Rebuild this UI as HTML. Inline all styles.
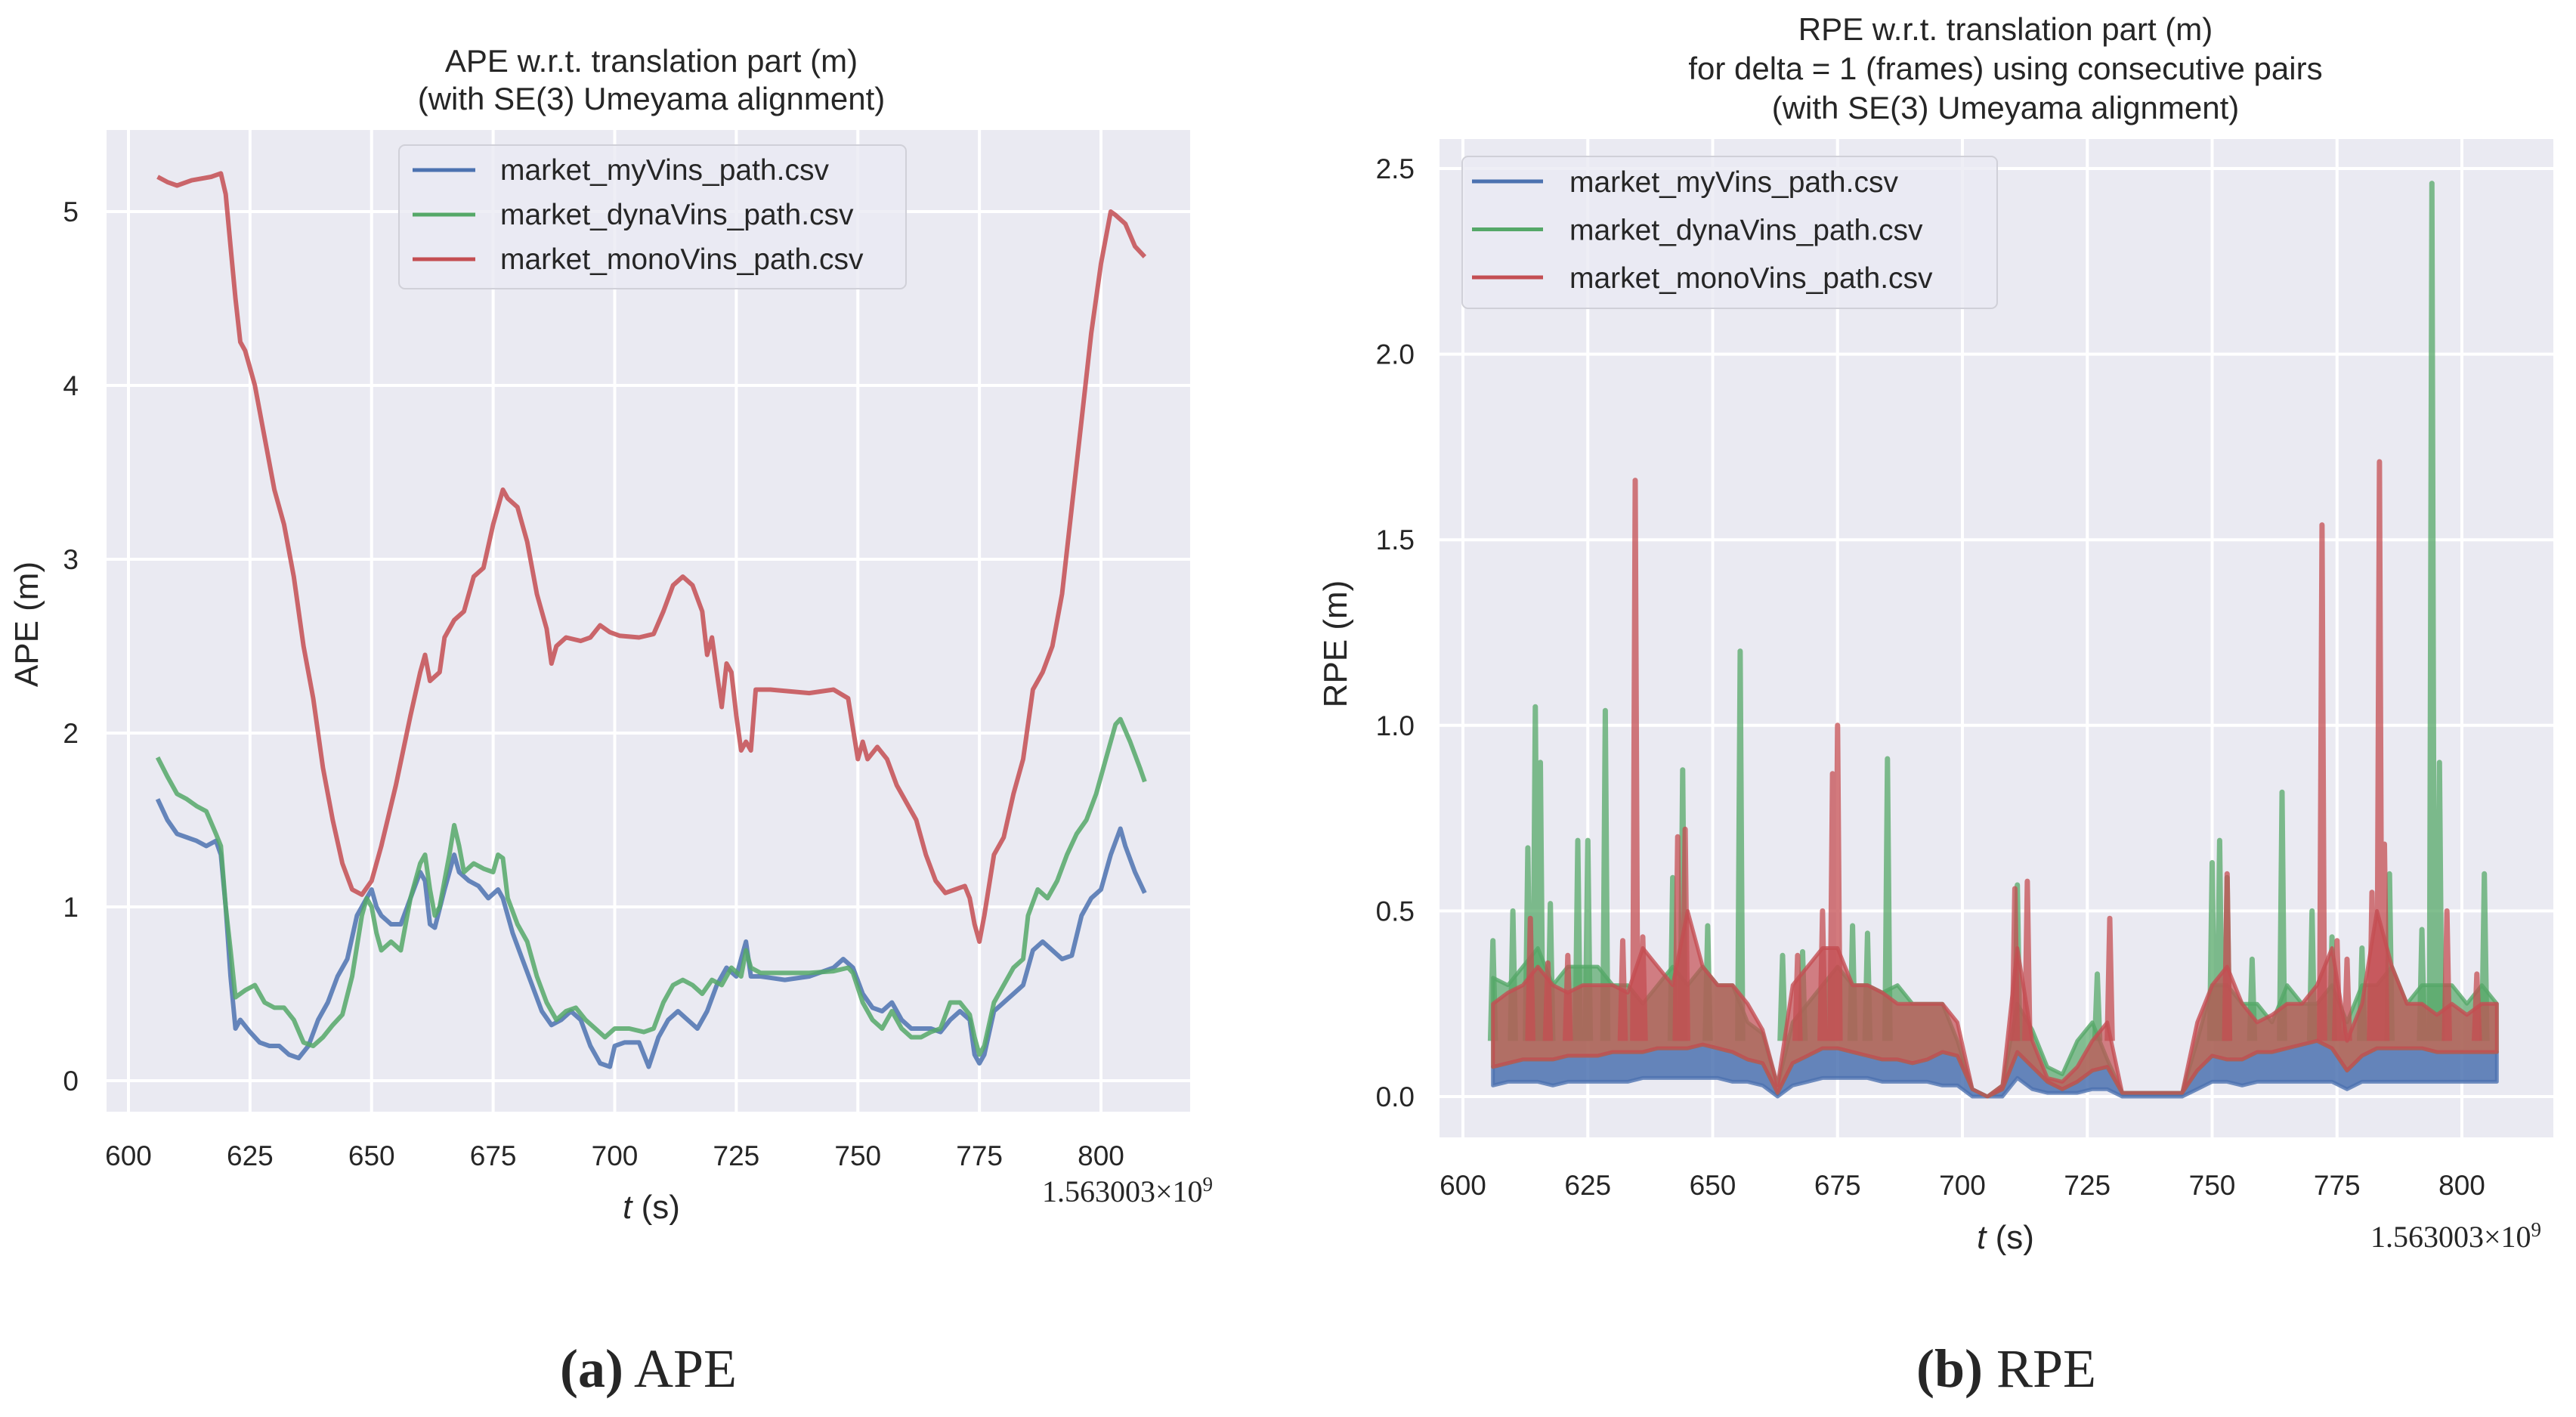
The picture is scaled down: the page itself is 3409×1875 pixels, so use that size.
<!DOCTYPE html>
<html><head><meta charset="utf-8"><style>
html,body{margin:0;padding:0;background:#fff;}
svg{display:block;}
text{font-family:"Liberation Sans",sans-serif;fill:#262626;}
.tk{font-size:37px;}
.lg{font-size:39px;}
.ax{font-size:44px;}
.tt{font-size:42px;}
.serif{font-family:"Liberation Serif",serif;}
</style></head><body>
<svg id="fig" width="3409" height="1875" viewBox="0 0 3409 1875" xmlns="http://www.w3.org/2000/svg">
<g id="ape"></g>
<g id="rpe"></g>
<text class="serif" x="858" y="1835" text-anchor="middle" font-size="72"><tspan font-weight="bold">(a)</tspan> APE</text>
<text class="serif" x="2655" y="1835" text-anchor="middle" font-size="72"><tspan font-weight="bold">(b)</tspan> RPE</text>
</svg>
<script>
// ---------- APE data ----------
const apeXTicks = [600,625,650,675,700,725,750,775,800];
const apeYTicks = [0,1,2,3,4,5];
const apeMonoT = [606,608,610,613,617,619,620,621,622,623,624,625,626,628,630,632,634,636,638,640,642,644,646,648,650,652,655,658,660,661,662,664,665,667,669,671,673,675,677,678,680,682,684,686,687,688,690,693,695,697,699,701,705,708,710,712,714,716,718,719,720,721,722,723,724,725,726,727,728,729,732,740,745,748,750,751,752,754,756,758,760,762,764,766,768,770,772,773,774,775,776,778,780,782,784,786,788,790,792,794,796,798,800,802,803,805,807,809];
const apeMonoV = [5.2,5.17,5.15,5.18,5.2,5.22,5.1,4.8,4.5,4.25,4.2,4.1,4.0,3.7,3.4,3.2,2.9,2.5,2.2,1.8,1.5,1.25,1.1,1.07,1.15,1.35,1.7,2.1,2.35,2.45,2.3,2.35,2.55,2.65,2.7,2.9,2.95,3.2,3.4,3.35,3.3,3.1,2.8,2.6,2.4,2.5,2.55,2.53,2.55,2.62,2.58,2.56,2.55,2.57,2.7,2.85,2.9,2.85,2.7,2.45,2.55,2.35,2.15,2.4,2.35,2.1,1.9,1.95,1.9,2.25,2.25,2.23,2.25,2.2,1.85,1.95,1.85,1.92,1.85,1.7,1.6,1.5,1.3,1.15,1.08,1.1,1.12,1.05,0.9,0.8,0.95,1.3,1.4,1.65,1.85,2.25,2.35,2.5,2.8,3.3,3.8,4.3,4.7,5.0,4.98,4.93,4.8,4.74];
const apeDynaT = [606,608,610,612,614,616,618,619,620,621,622,624,626,628,630,632,634,636,638,640,642,644,646,648,649,650,651,652,654,656,658,660,661,662,663,664,666,667,668,669,671,673,675,676,677,678,680,682,684,686,688,690,692,694,696,698,700,703,706,708,710,712,714,716,718,720,722,724,726,727,728,730,735,740,745,748,749,751,753,755,757,759,761,763,765,767,769,771,773,774,775,776,778,780,782,784,785,787,789,791,793,795,797,799,801,803,804,806,808,809];
const apeDynaV = [1.86,1.75,1.65,1.62,1.58,1.55,1.42,1.35,1.0,0.75,0.48,0.52,0.55,0.45,0.42,0.42,0.35,0.22,0.2,0.25,0.32,0.38,0.6,0.95,1.05,1.0,0.85,0.75,0.8,0.75,1.05,1.25,1.3,1.1,0.95,1.0,1.3,1.47,1.35,1.2,1.25,1.22,1.2,1.3,1.28,1.05,0.9,0.8,0.6,0.45,0.35,0.4,0.42,0.35,0.3,0.25,0.3,0.3,0.28,0.3,0.45,0.55,0.58,0.55,0.5,0.58,0.55,0.65,0.6,0.75,0.65,0.62,0.62,0.62,0.63,0.65,0.62,0.45,0.35,0.3,0.4,0.3,0.25,0.25,0.28,0.3,0.45,0.45,0.38,0.25,0.15,0.2,0.45,0.55,0.65,0.7,0.95,1.1,1.05,1.15,1.3,1.42,1.5,1.65,1.85,2.05,2.08,1.95,1.8,1.72];
const apeMyT = [606,608,610,612,614,616,618,619,620,621,622,623,625,627,629,631,633,635,637,639,641,643,645,647,649,650,651,652,654,656,658,660,661,662,663,665,667,668,670,672,674,676,677,679,681,683,685,687,689,691,693,695,697,699,700,702,705,707,709,711,713,715,717,719,721,723,725,727,728,730,735,740,745,747,749,751,753,755,757,759,761,763,765,767,769,771,773,774,775,776,778,780,782,784,786,788,790,792,794,796,798,800,802,804,805,807,809];
const apeMyV = [1.62,1.5,1.42,1.4,1.38,1.35,1.38,1.3,1.0,0.6,0.3,0.35,0.28,0.22,0.2,0.2,0.15,0.13,0.2,0.35,0.45,0.6,0.7,0.95,1.05,1.1,1.0,0.95,0.9,0.9,1.05,1.2,1.15,0.9,0.88,1.1,1.3,1.2,1.15,1.12,1.05,1.1,1.05,0.85,0.7,0.55,0.4,0.32,0.35,0.4,0.35,0.2,0.1,0.08,0.2,0.22,0.22,0.08,0.25,0.35,0.4,0.35,0.3,0.4,0.55,0.65,0.6,0.8,0.6,0.6,0.58,0.6,0.65,0.7,0.65,0.5,0.42,0.4,0.45,0.35,0.3,0.3,0.3,0.28,0.35,0.4,0.35,0.15,0.1,0.15,0.4,0.45,0.5,0.55,0.75,0.8,0.75,0.7,0.72,0.95,1.05,1.1,1.3,1.45,1.35,1.2,1.08];

// ---------- RPE data ----------
const rpeXTicks = [600,625,650,675,700,725,750,775,800];
const rpeYTicks = ["0.0","0.5","1.0","1.5","2.0","2.5"];
const rpeT = [606,609,612,615,618,621,624,627,630,633,636,639,642,645,648,651,654,657,660,663,666,669,672,675,678,681,684,687,690,693,696,699,702,705,708,711,714,717,720,723,726,729,732,735,738,741,744,747,750,753,756,759,762,765,768,771,774,777,780,783,786,789,792,795,798,801,804,807];
const rpeMyLo = [0.03,0.04,0.04,0.04,0.03,0.04,0.04,0.04,0.04,0.04,0.05,0.05,0.05,0.05,0.05,0.05,0.04,0.04,0.03,0.0,0.03,0.04,0.05,0.05,0.05,0.05,0.04,0.04,0.04,0.04,0.03,0.03,0.0,0.0,0.0,0.05,0.02,0.01,0.01,0.01,0.02,0.02,0.0,0.0,0.0,0.0,0.0,0.02,0.04,0.04,0.03,0.04,0.04,0.04,0.04,0.04,0.04,0.02,0.04,0.04,0.04,0.04,0.04,0.04,0.04,0.04,0.04,0.04];
const rpeMyHi = [0.08,0.09,0.1,0.1,0.1,0.11,0.11,0.11,0.12,0.12,0.12,0.13,0.13,0.13,0.14,0.13,0.12,0.1,0.09,0.01,0.09,0.11,0.13,0.13,0.12,0.11,0.1,0.1,0.09,0.1,0.12,0.11,0.02,0.0,0.02,0.12,0.08,0.04,0.02,0.04,0.07,0.08,0.01,0.01,0.01,0.01,0.01,0.07,0.11,0.1,0.1,0.12,0.12,0.13,0.14,0.15,0.13,0.07,0.11,0.13,0.13,0.13,0.13,0.12,0.12,0.12,0.12,0.12];
const rpeDynaHi = [0.32,0.3,0.35,0.4,0.3,0.35,0.35,0.35,0.3,0.3,0.25,0.3,0.35,0.3,0.35,0.3,0.3,0.2,0.17,0.03,0.2,0.25,0.3,0.35,0.3,0.3,0.28,0.3,0.25,0.25,0.25,0.15,0.02,0.0,0.03,0.25,0.18,0.08,0.06,0.15,0.2,0.1,0.01,0.01,0.01,0.01,0.01,0.15,0.3,0.3,0.25,0.25,0.2,0.3,0.25,0.25,0.3,0.2,0.3,0.3,0.35,0.25,0.3,0.3,0.3,0.25,0.3,0.25];
const rpeMonoHi = [0.25,0.28,0.3,0.35,0.3,0.28,0.3,0.3,0.3,0.28,0.4,0.35,0.3,0.5,0.35,0.3,0.3,0.25,0.18,0.03,0.3,0.35,0.4,0.4,0.3,0.3,0.28,0.25,0.25,0.25,0.25,0.2,0.02,0.0,0.03,0.4,0.15,0.05,0.04,0.08,0.15,0.2,0.01,0.01,0.01,0.01,0.01,0.2,0.3,0.35,0.25,0.2,0.22,0.25,0.25,0.3,0.4,0.15,0.25,0.5,0.35,0.25,0.25,0.22,0.25,0.22,0.25,0.25];
const rpeDynaSpikeT = [606,610,613,614.5,615.5,617.5,623,625,628.5,642,644,649,655.5,664,668,678,681,685,711,727,750,751.5,753,758,764,770,774,780,785.5,792,794,795.5,804.5];
const rpeDynaSpikeV = [0.42,0.5,0.67,1.05,0.9,0.52,0.69,0.69,1.04,0.59,0.88,0.46,1.2,0.38,0.39,0.46,0.44,0.91,0.57,0.33,0.63,0.69,0.59,0.37,0.82,0.5,0.43,0.4,0.6,0.45,2.46,0.9,0.6];
const rpeMonoSpikeT = [613.5,617,621,632,634.5,636,643,644.5,667,672,674,675,710.5,713,729.5,753,772,775,777,782,783.5,784.5,797,803];
const rpeMonoSpikeV = [0.48,0.36,0.38,0.42,1.66,0.43,0.7,0.72,0.38,0.5,0.87,1.0,0.56,0.58,0.48,0.6,1.54,0.42,0.37,0.55,1.71,0.68,0.5,0.33];

const NS='http://www.w3.org/2000/svg';
const BLUE='#4c72b0', GREEN='#55a868', RED='#c44e52';
function mk(parent,tag,attrs){const e=document.createElementNS(NS,tag);for(const k in attrs)e.setAttribute(k,attrs[k]);parent.appendChild(e);return e;}

// ---------- APE chart ----------
(function(){
  const g=document.getElementById('ape');
  const L=141,R=1575,T=172,B=1471;
  const x=t=>170+(t-600)*(1457-170)/200;
  const y=v=>1430-v*(1430-280)/5;
  const bg=mk(g,'rect',{x:L,y:T,width:R-L,height:B-T,fill:'#eaeaf2'});
  
  
  apeXTicks.forEach(t=>{
    const l=mk(g,'line',{x1:x(t),x2:x(t),y1:T,y2:B,stroke:'#fff','stroke-width':4});
    
    
    const tx=mk(g,'text',{x:x(t),y:1542,'text-anchor':'middle',class:'tk'});tx.textContent=t;
    
    
  });
  apeYTicks.forEach(v=>{
    const l=mk(g,'line',{x1:L,x2:R,y1:y(v),y2:y(v),stroke:'#fff','stroke-width':4});
    
    
    const tx=mk(g,'text',{x:104,y:y(v)+13,'text-anchor':'end',class:'tk'});tx.textContent=v;
    
    
  });
  const series=[[apeMyT,apeMyV,BLUE,'ape-line-myvins'],[apeDynaT,apeDynaV,GREEN,'ape-line-dynavins'],[apeMonoT,apeMonoV,RED,'ape-line-monovins']];
  series.forEach(s=>{
    const d=s[0].map((t,i)=>(i?'L':'M')+x(t).toFixed(1)+','+y(s[1][i]).toFixed(1)).join('');
    const p=mk(g,'path',{d:d,fill:'none',stroke:s[2],'stroke-width':6,'stroke-opacity':0.85,'stroke-linejoin':'round'});
    
    
  });
  const lg=mk(g,'g',{});
  
  
  mk(lg,'rect',{x:528,y:192,width:671,height:190,rx:8,fill:'#eaeaf2','fill-opacity':0.8,stroke:'#d0d0d8','stroke-width':2});
  const names=['market_myVins_path.csv','market_dynaVins_path.csv','market_monoVins_path.csv'];
  [BLUE,GREEN,RED].forEach((c,i)=>{
    const yy=225+i*59;
    mk(lg,'line',{x1:546,x2:629,y1:yy,y2:yy,stroke:c,'stroke-width':5});
    const tx=mk(lg,'text',{x:662,y:yy+13,class:'lg'});tx.textContent=names[i];
    
    
  });
  const t1=mk(g,'text',{x:862,y:95,'text-anchor':'middle',class:'tt'});t1.textContent='APE w.r.t. translation part (m)';
  
  
  const t2=mk(g,'text',{x:862,y:145,'text-anchor':'middle',class:'tt'});t2.textContent='(with SE(3) Umeyama alignment)';
  
  
  const yl=mk(g,'text',{x:50,y:826,'text-anchor':'middle',class:'ax',transform:'rotate(-90 50 826)'});yl.textContent='APE (m)';
  
  
  const xl=mk(g,'text',{x:862,y:1612,'text-anchor':'middle',class:'ax'});xl.innerHTML='<tspan font-style="italic">t</tspan> (s)';
  
  
  const off=mk(g,'text',{x:1605,y:1590,'text-anchor':'end',class:'serif','font-size':40});off.innerHTML='1.563003×10<tspan dy="-14" font-size="27">9</tspan>';
  
  
})();

// ---------- RPE chart ----------
(function(){
  const g=document.getElementById('rpe');
  const L=1905,R=3379,T=184,B=1505;
  const x=t=>1936+(t-600)*(3258-1936)/200;
  const y=v=>1451-v*(1451-223)/2.5;
  const bg=mk(g,'rect',{x:L,y:T,width:R-L,height:B-T,fill:'#eaeaf2'});
  
  
  rpeXTicks.forEach(t=>{
    const l=mk(g,'line',{x1:x(t),x2:x(t),y1:T,y2:B,stroke:'#fff','stroke-width':4});
    
    
    const tx=mk(g,'text',{x:x(t),y:1581,'text-anchor':'middle',class:'tk'});tx.textContent=t;
    
    
  });
  rpeYTicks.forEach(v=>{
    const l=mk(g,'line',{x1:L,x2:R,y1:y(+v),y2:y(+v),stroke:'#fff','stroke-width':4});
    
    
    const tx=mk(g,'text',{x:1872,y:y(+v)+13,'text-anchor':'end',class:'tk'});tx.textContent=v;
    
    
  });
  function band(lo,hi,c,op,name){
    let d='M'+rpeT.map((t,i)=>x(t).toFixed(1)+','+y(lo[i]).toFixed(1)).join('L');
    for(let i=rpeT.length-1;i>=0;i--) d+='L'+x(rpeT[i]).toFixed(1)+','+y(hi[i]).toFixed(1);
    d+='Z';
    const p=mk(g,'path',{d:d,fill:c,'fill-opacity':op,stroke:c,'stroke-opacity':0.8,'stroke-width':5,'stroke-linejoin':'round'});
    
    
  }
  function spikes(ts,vs,c,name){
    let d='';
    ts.forEach((t,i)=>{d+='M'+x(t-0.5).toFixed(1)+','+y(0.15).toFixed(1)+'L'+x(t).toFixed(1)+','+y(vs[i]).toFixed(1)+'L'+x(t+0.5).toFixed(1)+','+y(0.15).toFixed(1);});
    const p=mk(g,'path',{d:d,fill:'none',stroke:c,'stroke-opacity':0.75,'stroke-width':7,'stroke-linejoin':'round'});
    
    
  }
  band(rpeMyLo,rpeMyHi,BLUE,0.85,'rpe-band-myvins');
  band(rpeMyHi,rpeDynaHi,GREEN,0.7,'rpe-band-dynavins');
  spikes(rpeDynaSpikeT,rpeDynaSpikeV,GREEN,'rpe-spikes-dynavins');
  band(rpeMyHi,rpeMonoHi,RED,0.7,'rpe-band-monovins');
  spikes(rpeMonoSpikeT,rpeMonoSpikeV,RED,'rpe-spikes-monovins');
  const lg=mk(g,'g',{});
  
  
  mk(lg,'rect',{x:1935,y:207,width:708,height:201,rx:8,fill:'#eaeaf2','fill-opacity':0.8,stroke:'#d0d0d8','stroke-width':2});
  const names=['market_myVins_path.csv','market_dynaVins_path.csv','market_monoVins_path.csv'];
  [BLUE,GREEN,RED].forEach((c,i)=>{
    const yy=240+i*63.5;
    mk(lg,'line',{x1:1948,x2:2042,y1:yy,y2:yy,stroke:c,'stroke-width':5});
    const tx=mk(lg,'text',{x:2077,y:yy+14,class:'lg','font-size':41});tx.textContent=names[i];
    
    
  });
  const titles=['RPE w.r.t. translation part (m)','for delta = 1 (frames) using consecutive pairs','(with SE(3) Umeyama alignment)'];
  titles.forEach((s,i)=>{
    const t=mk(g,'text',{x:2654,y:53+i*52,'text-anchor':'middle',class:'tt'});t.textContent=s;
    
    
  });
  const yl=mk(g,'text',{x:1782,y:852,'text-anchor':'middle',class:'ax',transform:'rotate(-90 1782 852)'});yl.textContent='RPE (m)';
  
  
  const xl=mk(g,'text',{x:2654,y:1652,'text-anchor':'middle',class:'ax'});xl.innerHTML='<tspan font-style="italic">t</tspan> (s)';
  
  
  const off=mk(g,'text',{x:3363,y:1650,'text-anchor':'end',class:'serif','font-size':40});off.innerHTML='1.563003×10<tspan dy="-14" font-size="27">9</tspan>';
  
  
})();
</script>
</body></html>
